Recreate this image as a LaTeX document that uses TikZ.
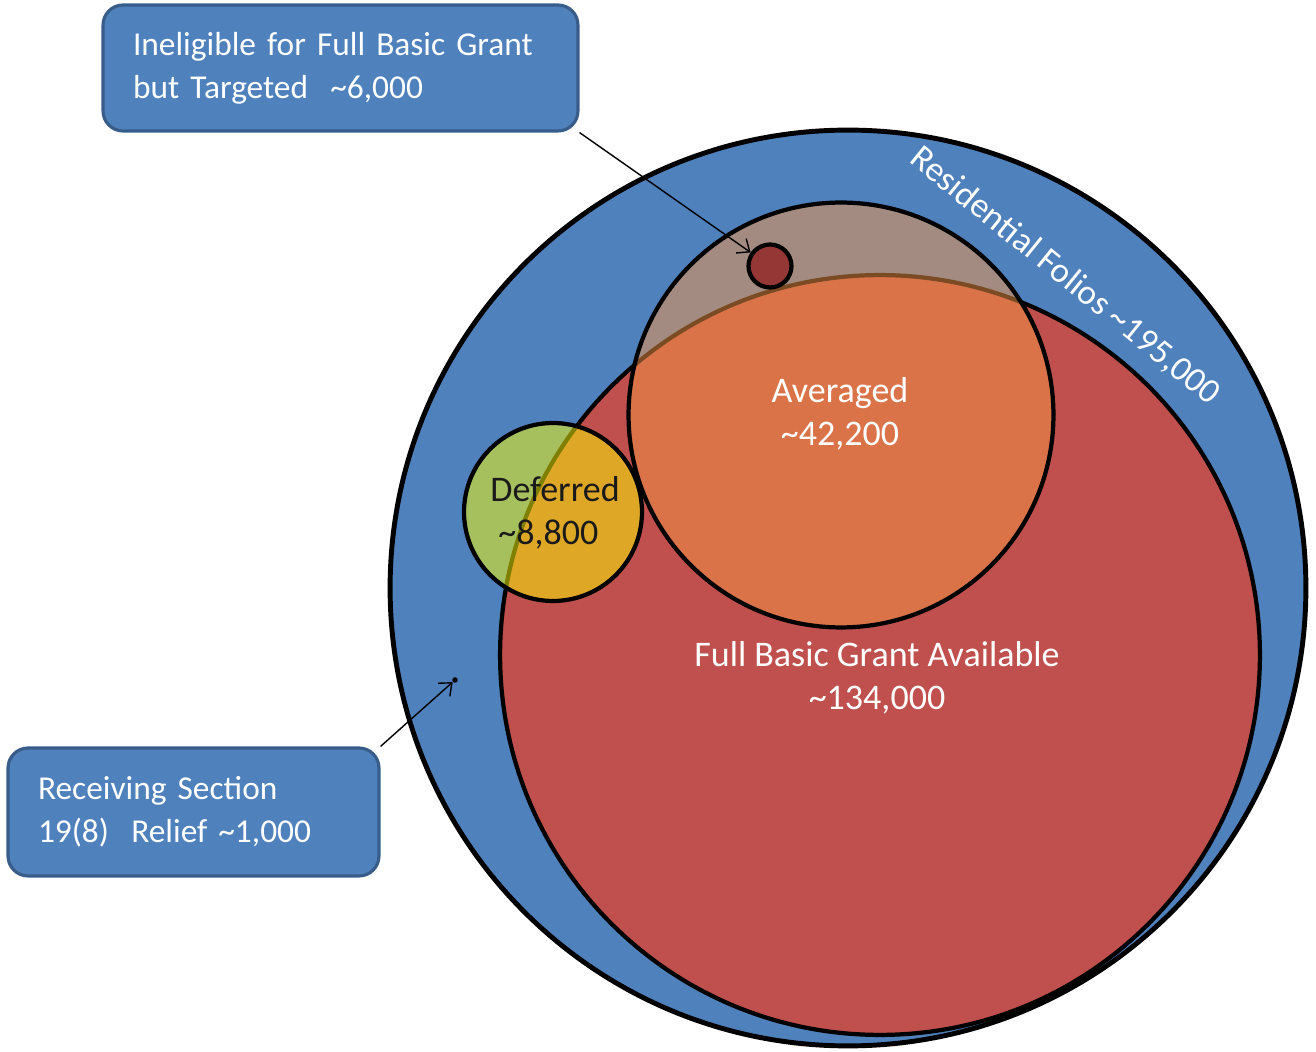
\documentclass[tikz,border=0pt]{standalone}
\usepackage{fontspec}
\setmainfont{Carlito}
\usetikzlibrary{arrows.meta}
\definecolor{fillblue}{HTML}{4F81BD}
\definecolor{edgeblue}{HTML}{385D8A}
\definecolor{fillred}{HTML}{C0504D}
\definecolor{fillorange}{HTML}{F79646}
\definecolor{fillyellow}{HTML}{FFFF00}
\definecolor{darkred}{HTML}{953735}
\definecolor{darktext}{HTML}{1A1A1A}

\begin{document}
\begin{tikzpicture}[x=0.02cm,y=0.02cm,
  ring/.style={circle, draw=black, line width=2.4pt, inner sep=0pt},
  callout/.style={draw=edgeblue, fill=fillblue, line width=1.8pt,
    rounded corners=0.4cm, text=white, align=left,
    font=\fontsize{19}{24.5}\selectfont, inner xsep=0.6cm, inner ysep=0pt},
  lbl/.style={text=white, align=center, font=\fontsize{20.5}{24.5}\selectfont},
  pointer/.style={black, line width=0.8pt, -{Straight Barb[length=6pt,width=10pt]}}
]
\useasboundingbox (0,0) rectangle (1316,1052);

% nested sets
\node[ring, line width=2.8pt, fill=fillblue, minimum size=18.32cm] (folios) at (848,464) {};
\node[ring, fill=fillred, minimum size=15.2cm] (fullgrant) at (880,397) {};
\node[ring, fill=fillorange, fill opacity=0.5, draw opacity=1, minimum size=8.5cm] (averaged) at (841,637) {};
\node[ring, fill=fillyellow, fill opacity=0.5, draw opacity=1, minimum size=3.56cm] (deferred) at (553,540) {};
\node[ring, fill=darkred, minimum size=0.86cm] (targeted) at (770,786) {};
\node[circle, fill=black, inner sep=0pt, minimum size=0.11cm] (relief) at (455,372) {};

% labels inside the circles
\node[lbl] (avglabel) at (840,638) {Averaged\\\textasciitilde42,200};
\node[lbl] (fulllabel) at (877,374) {Full Basic Grant Available\\\textasciitilde134,000};
\node[lbl, text=darktext, align=left] (deflabel) at (555,539) {Deferred\\\hspace*{0.16cm}\textasciitilde8,800};
\node[lbl, font=\fontsize{20}{24.5}\selectfont, rotate=-39] (folabel) at (1065,776) {Residential Folios \textasciitilde195,000};

% callouts
\node[callout, text width=8.3cm, minimum height=2.52cm] (topbox) at (340.5,984)
  {Ineligible for Full Basic Grant\\but Targeted\ \ \textasciitilde6,000};
\node[callout, text width=6.22cm, minimum height=2.56cm] (botbox) at (193.5,240)
  {Receiving Section\\19(8)\ \ Relief \textasciitilde1,000};

% pointers
\draw[pointer] (topbox.south east) -- (targeted);
\draw[pointer] (botbox.north east) -- (relief);
\end{tikzpicture}
\end{document}
